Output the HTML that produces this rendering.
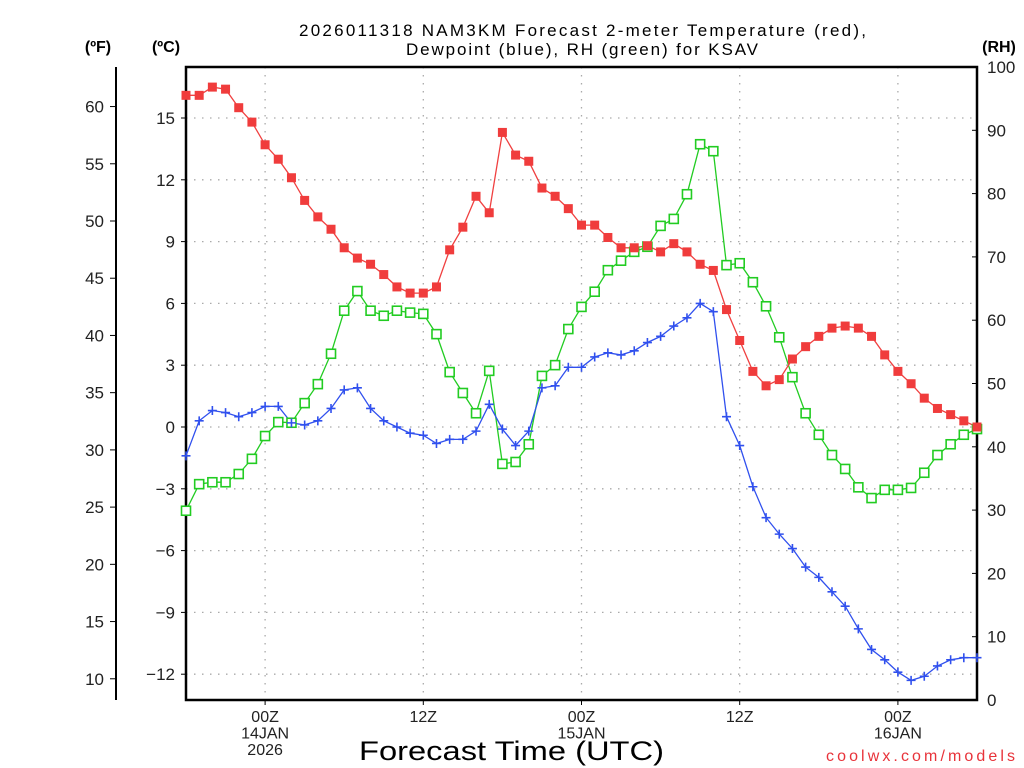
<!DOCTYPE html>
<html><head><meta charset="utf-8"><style>
body{margin:0;background:#fff;}
svg{display:block;font-family:"Liberation Sans",sans-serif;}
</style></head><body>
<svg id="chart" width="1024" height="768" xmlns="http://www.w3.org/2000/svg">
<g id="grid"></g>
<g id="axes"></g>
<g id="series"></g>
<text x="299" y="36" font-size="17" textLength="567" lengthAdjust="spacing" fill="#000">2026011318 NAM3KM Forecast 2-meter Temperature (red),</text>
<text x="406" y="55" font-size="17" textLength="352" lengthAdjust="spacing" fill="#000">Dewpoint (blue), RH (green) for KSAV</text>
<text x="98" y="52" font-size="16" font-weight="bold" text-anchor="middle">(ºF)</text>
<text x="166" y="52" font-size="16" font-weight="bold" text-anchor="middle">(ºC)</text>
<text x="999" y="52" font-size="16" font-weight="bold" text-anchor="middle">(RH)</text>
<text x="359" y="760" font-size="27" textLength="305" lengthAdjust="spacingAndGlyphs">Forecast Time (UTC)</text>
<text x="826" y="761" font-size="16" textLength="189" lengthAdjust="spacing" fill="#e8333a">coolwx.com/models</text>
</svg>
<script>
const hours = [0,1,2,3,4,5,6,7,8,9,10,11,12,13,14,15,16,17,18,19,20,21,22,23,24,25,26,27,28,29,30,31,32,33,34,35,36,37,38,39,40,41,42,43,44,45,46,47,48,49,50,51,52,53,54,55,56,57,58,59,60];
const tempC = [16.1,16.1,16.5,16.4,15.5,14.8,13.7,13.0,12.1,11.0,10.2,9.6,8.7,8.2,7.9,7.4,6.8,6.5,6.5,6.8,8.6,9.7,11.2,10.4,14.3,13.2,12.9,11.6,11.2,10.6,9.8,9.8,9.2,8.7,8.7,8.8,8.5,8.9,8.5,7.9,7.6,5.7,4.2,2.7,2.0,2.3,3.3,3.9,4.4,4.8,4.9,4.8,4.4,3.5,2.7,2.1,1.4,0.9,0.6,0.3,0.0];
const dewC = [-1.4,0.3,0.8,0.7,0.5,0.7,1.0,1.0,0.2,0.1,0.3,0.9,1.8,1.9,0.9,0.3,0.0,-0.3,-0.4,-0.8,-0.6,-0.6,-0.2,1.1,-0.1,-0.9,-0.2,1.9,2.0,2.9,2.9,3.4,3.6,3.5,3.7,4.1,4.4,4.9,5.3,6.0,5.6,0.5,-0.9,-2.9,-4.4,-5.2,-5.9,-6.8,-7.3,-8.0,-8.7,-9.8,-10.8,-11.3,-11.9,-12.3,-12.1,-11.6,-11.3,-11.2,-11.2];
const rh = [29.9,34.1,34.4,34.4,35.7,38.1,41.7,43.9,43.8,46.9,49.9,54.7,61.5,64.6,61.5,60.7,61.5,61.2,61.0,57.8,51.8,48.5,45.3,52.0,37.3,37.6,40.4,51.2,52.9,58.6,62.1,64.5,67.9,69.4,70.8,71.6,74.9,76.0,79.9,87.8,86.7,68.7,69.0,66.0,62.2,57.3,51.0,45.3,41.9,38.7,36.5,33.6,31.9,33.2,33.2,33.5,35.9,38.7,40.4,41.9,42.8];
const cTicks = [15,12,9,6,3,0,-3,-6,-9,-12];
const fTicks = [60,55,50,45,40,35,30,25,20,15,10];
const rhTicks = [0,10,20,30,40,50,60,70,80,90,100];
const xTickHours = [6,18,30,42,54];
const xTickLabels = [["00Z","14JAN","2026"],["12Z"],["00Z","15JAN"],["12Z"],["00Z","16JAN"]];

const L=186,R=977,T=67,B=700;
const NS="http://www.w3.org/2000/svg";
const xS=h=>L+(h-0)*(R-L)/60;
const yC=c=>427-c*20.6;
const yF=f=>yC((f-32)*5/9);
const yRH=r=>B-r*(B-T)/100;
function mk(tag,attrs,parent,text){const e=document.createElementNS(NS,tag);for(const k in attrs)e.setAttribute(k,attrs[k]);if(text!==undefined)e.textContent=text;parent.appendChild(e);return e;}
const grid=document.getElementById('grid'),axes=document.getElementById('axes'),series=document.getElementById('series');
const gs={stroke:"#aaa","stroke-width":1.3,"stroke-dasharray":"1.5 6.5"};
cTicks.forEach(c=>{const y=yC(c);
 const g=mk('line',Object.assign({x1:L,x2:R,y1:y,y2:y},gs),grid);
 
 
 const t=mk('line',{x1:L-5,x2:L,y1:y,y2:y,stroke:"#000","stroke-width":1},axes);
 
 
 const lb=mk('text',{x:L-11,y:y+6,"font-size":17,"text-anchor":"end",fill:"#222"},axes,c<0?"\u2212"+Math.abs(c):String(c));
 
 
});
xTickHours.forEach((h,i)=>{const x=xS(h);
 const g=mk('line',Object.assign({x1:x,x2:x,y1:T,y2:B},gs),grid);
 
 
 const t=mk('line',{x1:x,x2:x,y1:B,y2:B+5,stroke:"#000","stroke-width":1},axes);
 
 
 xTickLabels[i].forEach((s,j)=>{const lb=mk('text',{x:x,y:B+22+j*16.5,"font-size":16,"text-anchor":"middle",fill:"#222"},axes,s);
  
  });
});
const fl=mk('line',{x1:116,x2:116,y1:T,y2:B,stroke:"#000","stroke-width":2},axes);


fTicks.forEach(f=>{const y=yF(f);
 const t=mk('line',{x1:110,x2:116,y1:y,y2:y,stroke:"#000","stroke-width":1},axes);
 
 
 const lb=mk('text',{x:104,y:y+6,"font-size":17,"text-anchor":"end",fill:"#222"},axes,String(f));
 
 
});
rhTicks.forEach(r=>{const y=yRH(r);
 const t=mk('line',{x1:R-5,x2:R,y1:y,y2:y,stroke:"#000","stroke-width":1},axes);
 
 
 const lb=mk('text',{x:R+10,y:y+6,"font-size":17,"text-anchor":"start",fill:"#222"},axes,String(r));
 
 
});
const fr=mk('rect',{x:L,y:T,width:R-L,height:B-T,fill:"none",stroke:"#000","stroke-width":2.5},axes);



function line(vals,yf,color,name){
 const pts=vals.map((v,i)=>xS(hours[i]).toFixed(1)+","+yf(v).toFixed(1)).join(" ");
 const p=mk('polyline',{points:pts,fill:"none",stroke:color,"stroke-width":1.3},series);
 
 
}
line(rh,yRH,"#22cc22","rh");
line(tempC,yC,"#f04040","temperature");
line(dewC,yC,"#3050ee","dewpoint");
rh.forEach((v,i)=>{const x=xS(hours[i]),y=yRH(v);
 const m=mk('rect',{x:x-4.5,y:y-4.5,width:9,height:9,fill:"#fff",stroke:"#22cc22","stroke-width":1.6},series);
 
 });
tempC.forEach((v,i)=>{const x=xS(hours[i]),y=yC(v);
 const m=mk('rect',{x:x-4.5,y:y-4.5,width:9,height:9,fill:"#f03c3c"},series);
 
 });
dewC.forEach((v,i)=>{const x=xS(hours[i]),y=yC(v);
 const m=mk('path',{d:`M${x-4.5},${y}H${x+4.5}M${x},${y-4.5}V${y+4.5}`,stroke:"#3050ee","stroke-width":1.6},series);
 
 });
</script>
</body></html>
